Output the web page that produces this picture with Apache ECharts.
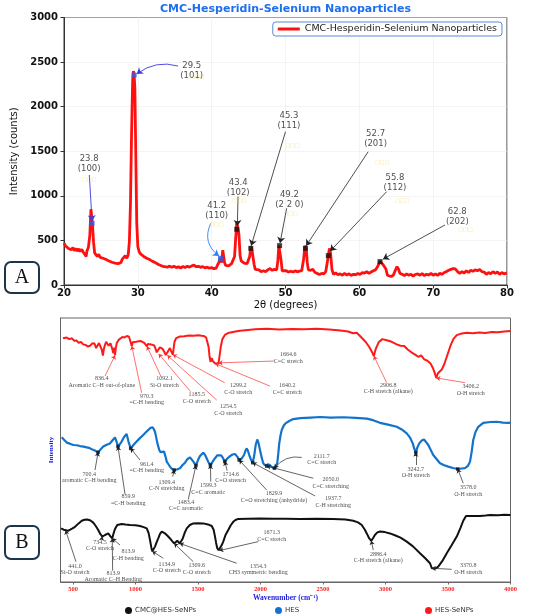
<!DOCTYPE html>
<html>
<head>
<meta charset="utf-8">
<script src="https://cdn.jsdelivr.net/npm/echarts@6/dist/echarts.min.js"></script>
<style>
html, body { margin: 0; padding: 0; background: #fff; }
#chart { width: 550px; height: 615px; }
</style>
</head>
<body>
<div id="chart"></div>
<script>
// ---- XRD scan (2theta, counts) ----
var xrdScan = [
  [20.0,470],[20.2,440],[20.4,455],[20.6,410],[20.8,430],[21.0,395],[21.2,420],[21.4,385],[21.6,410],[21.8,380],
  [22.0,405],[22.2,375],[22.4,400],[22.6,370],[22.8,390],[23.0,320],[23.1,380],[23.3,420],[23.5,560],[23.65,850],
  [23.75,760],[23.85,690],[24.0,480],[24.15,360],[24.3,340],[24.5,320],[24.7,345],[24.9,310],[25.1,330],[25.3,300],
  [25.5,315],[25.7,285],[25.9,300],[26.1,270],[26.3,285],[26.5,255],[26.7,270],[26.9,245],[27.1,265],[27.3,240],
  [27.5,255],[27.7,250],[27.9,290],[28.1,270],[28.3,330],[28.5,300],[28.7,340],[28.85,480],[29.0,900],[29.15,1700],
  [29.3,2300],[29.4,2400],[29.5,2360],[29.6,2200],[29.75,1300],[29.85,700],[30.0,430],[30.2,370],[30.4,345],[30.6,360],
  [30.8,320],[31.0,330],[31.2,300],[31.4,315],[31.6,285],[31.8,295],[32.0,265],[32.2,275],[32.4,250],[32.6,255],
  [32.8,230],[33.0,240],[33.2,215],[33.4,225],[33.6,205],[33.8,215],[34.0,200],[34.3,212],[34.6,198],[34.9,210],
  [35.2,195],[35.5,205],[35.8,190],[36.1,208],[36.4,196],[36.7,210],[37.0,200],[37.3,215],[37.6,222],[37.9,205],
  [38.2,210],[38.5,198],[38.8,205],[39.1,192],[39.4,200],[39.7,188],[40.0,195],[40.3,182],[40.6,190],[40.85,200],
  [41.0,260],[41.2,300],[41.35,250],[41.5,390],[41.6,370],[41.75,250],[41.9,220],[42.1,230],[42.3,215],[42.5,225],
  [42.7,240],[42.9,260],[43.1,320],[43.25,520],[43.4,700],[43.55,640],[43.7,560],[43.85,330],[44.0,270],[44.2,250],
  [44.4,245],[44.6,255],[44.8,240],[45.0,250],[45.15,320],[45.3,430],[45.45,400],[45.6,380],[45.75,230],[45.9,175],
  [46.1,165],[46.4,170],[46.7,150],[47.0,160],[47.3,150],[47.6,170],[47.9,185],[48.2,165],[48.5,175],[48.8,170],
  [48.95,260],[49.1,440],[49.2,445],[49.3,450],[49.4,280],[49.55,160],[49.8,150],[50.1,160],[50.4,145],[50.7,155],
  [51.0,145],[51.3,158],[51.6,148],[51.9,155],[52.2,160],[52.45,290],[52.65,440],[52.8,410],[52.95,250],[53.1,170],
  [53.4,165],[53.7,175],[54.0,140],[54.3,130],[54.6,118],[54.9,130],[55.2,125],[55.45,150],[55.65,250],[55.8,330],
  [55.95,410],[56.1,360],[56.3,170],[56.5,120],[56.8,135],[57.1,115],[57.4,125],[57.7,110],[58.0,130],[58.3,112],
  [58.6,125],[58.9,108],[59.2,120],[59.5,115],[59.8,130],[60.1,118],[60.4,138],[60.7,132],[61.0,150],[61.3,130],
  [61.6,145],[61.9,160],[62.2,170],[62.5,210],[62.8,265],[63.0,275],[63.2,230],[63.4,250],[63.6,180],[63.8,110],
  [64.0,120],[64.3,95],[64.6,110],[64.9,170],[65.1,205],[65.3,180],[65.5,130],[65.8,120],[66.1,105],[66.4,125],
  [66.7,110],[67.0,120],[67.3,100],[67.6,118],[67.9,125],[68.2,110],[68.5,128],[68.8,105],[69.1,120],[69.4,112],
  [69.7,130],[70.0,110],[70.3,125],[70.6,108],[70.9,130],[71.2,120],[71.5,140],[71.8,150],[72.1,165],[72.4,175],
  [72.7,185],[73.0,180],[73.3,150],[73.6,130],[73.9,150],[74.2,135],[74.5,160],[74.8,140],[75.1,165],[75.4,155],
  [75.7,170],[76.0,160],[76.3,175],[76.6,150],[76.9,145],[77.2,120],[77.5,140],[77.8,125],[78.1,150],[78.4,130],
  [78.7,145],[79.0,120],[79.3,140],[79.6,125],[80.0,135]
];
var xrdPeakAngle  = [23.8, 29.5, 41.2, 43.4, 45.3, 49.2, 52.7, 55.8, 62.8];
var xrdPeakCounts = [691, 2355, 299, 625, 411, 441, 411, 329, 262];
var xrdPeakHkl    = ['(100)', '(101)', '(110)', '(102)', '(111)', '(2 2 0)', '(201)', '(112)', '(202)'];
var xrdPeakBlue   = [true, true, true, false, false, false, false, false, false];

// ---- FTIR spectra (wavenumber, relative intensity) ----
var hesSeSpectrum = [
  [420,92.3],[449,92.6],[470,92.0],[492,92.3],[510,91.4],[528,91.5],[545,90.6],[564,90.9],[582,90.0],[600,89.8],
  [618,89.2],[636,89.5],[655,90.4],[672,90.3],[685,88.6],[696,89.2],[708,90.5],[720,90.3],[730,88.0],[739,85.8],
  [748,88.5],[756,89.8],[765,91.0],[775,90.9],[785,89.5],[792,89.2],[800,90.4],[809,90.3],[816,88.0],[823,86.6],
  [830,88.8],[836.4,85.9],[842,88.5],[850,90.5],[865,91.7],[876,92.0],[895,92.8],[912,92.6],[930,93.2],[948,92.9],
  [958,92.2],[970.3,89.4],[978,90.8],[990,91.5],[1005,91.0],[1020,91.6],[1040,91.3],[1056,91.0],[1070,90.6],[1080,90.1],
  [1092.1,89.3],[1100,90.2],[1111,90.8],[1125,90.0],[1140,90.2],[1150,89.6],[1159,88.5],[1170,87.0],[1185.5,86.4],[1195,88.9],
  [1205,89.2],[1215,88.4],[1230,87.2],[1242,86.0],[1254.5,85.9],[1265,87.8],[1275,88.6],[1288,87.2],[1299.2,86.1],[1305,88.5],
  [1312,91.0],[1325,92.4],[1356,93.0],[1390,93.1],[1428,93.4],[1465,93.3],[1500,93.5],[1530,93.3],[1548,93.2],[1565,92.6],
  [1577,92.0],[1585,89.0],[1592,85.5],[1600,83.4],[1610,84.8],[1620,83.6],[1630,82.9],[1640.2,82.7],[1652,83.2],[1664.6,83.0],
  [1672,85.5],[1682,89.0],[1695,92.0],[1715,93.6],[1740,94.3],[1790,94.8],[1836,95.2],[1900,95.5],[1956,95.7],[2052,95.9],
  [2150,95.6],[2250,95.8],[2350,95.7],[2450,95.9],[2550,95.6],[2640,95.3],[2700,94.9],[2740,94.2],[2770,94.4],[2800,93.0],
  [2840,91.0],[2870,89.0],[2895,86.8],[2906.8,85.6],[2920,88.0],[2945,90.8],[2975,92.0],[3010,91.6],[3050,91.0],[3090,90.0],
  [3120,89.5],[3150,89.4],[3180,88.0],[3210,86.9],[3240,86.0],[3265,85.3],[3285,85.8],[3310,84.3],[3335,83.8],[3360,82.8],
  [3380,81.0],[3395,79.0],[3406.2,77.3],[3418,79.0],[3432,78.8],[3450,80.5],[3470,82.5],[3495,86.0],[3520,89.5],[3545,92.2],
  [3570,93.5],[3600,94.0],[3650,94.4],[3700,94.2],[3750,94.5],[3800,94.3],[3850,94.7],[3900,94.6],[3950,94.9],[4000,95.1]
];
var hesSpectrum = [
  [410,54.8],[430,53.8],[450,52.8],[475,52.4],[503,51.9],[530,51.8],[556,51.5],[585,51.3],[610,51.0],[630,50.8],
  [650,50.3],[675,49.8],[700.4,49.1],[720,50.2],[742,51.3],[770,52.0],[796,52.5],[815,53.6],[836,54.8],[848,53.2],
  [859.9,51.3],[875,52.2],[889,53.2],[910,55.0],[929,56.1],[945,53.0],[961.4,50.6],[985,52.0],[1009,53.2],[1035,54.5],
  [1062,55.7],[1085,56.8],[1102,57.6],[1120,58.4],[1137,58.6],[1150,57.6],[1159,56.3],[1175,52.6],[1190,50.0],[1200,49.2],
  [1212,48.7],[1228,49.4],[1240,47.5],[1250,45.6],[1265,44.5],[1276,43.7],[1292,42.8],[1309.4,42.4],[1330,42.6],[1356,43.1],
  [1375,44.2],[1396,45.2],[1415,46.5],[1436,47.2],[1450,46.5],[1463,45.6],[1483.4,44.1],[1500,46.2],[1516,47.7],[1542,49.0],
  [1556,48.2],[1569,46.9],[1585,45.2],[1599.3,44.3],[1620,45.8],[1636,46.9],[1655,48.0],[1671,48.5],[1685,48.0],[1697,47.2],
  [1714.6,45.6],[1735,46.8],[1756,47.7],[1776,48.3],[1796,48.5],[1814,47.5],[1829.9,46.2],[1850,46.8],[1868,48.1],[1880,49.8],
  [1890,50.6],[1900,49.6],[1910,48.1],[1922,46.5],[1937.7,45.2],[1950,48.0],[1962,52.0],[1974,54.0],[1985,52.5],[1996,50.0],
  [2010,47.0],[2022,45.0],[2035,44.2],[2050,43.9],[2064,44.6],[2076,44.3],[2090,43.6],[2098,43.9],[2111.7,43.1],[2125,43.6],
  [2134,45.0],[2142,48.5],[2150,52.5],[2160,55.5],[2170,57.6],[2185,59.2],[2200,60.1],[2230,61.0],[2262,61.7],[2320,62.1],
  [2400,62.3],[2480,62.5],[2560,62.3],[2662,62.4],[2760,62.2],[2850,61.9],[2900,61.3],[2956,60.3],[3020,59.6],[3090,58.8],
  [3130,57.8],[3170,56.3],[3195,54.8],[3218,52.5],[3230,50.5],[3242.7,49.0],[3255,51.0],[3270,52.5],[3290,53.6],[3308,54.0],
  [3325,53.0],[3342,51.9],[3362,50.0],[3382,48.1],[3410,46.5],[3436,45.0],[3470,44.2],[3502,43.7],[3540,43.2],[3578,42.8],
  [3610,43.0],[3636,43.1],[3660,44.0],[3676,45.6],[3690,49.5],[3702,53.8],[3720,56.8],[3742,58.8],[3782,60.3],[3840,60.6],
  [3890,60.7],[3940,60.4],[3982,60.3],[4000,60.4]
];
var cmcSpectrum = [
  [404,20.3],[425,19.8],[441,19.5],[460,19.4],[476,19.7],[496,20.3],[516,20.9],[545,22.2],[570,23.2],[592,23.6],
  [614,23.7],[640,23.3],[662,22.5],[682,21.2],[702,19.7],[718,18.2],[734.5,17.2],[745,17.5],[756,17.8],[770,18.5],
  [782,18.4],[798,17.4],[813.9,16.5],[822,18.0],[835,20.0],[854,21.6],[870,22.0],[890,22.0],[920,21.8],[956,21.6],
  [1000,21.5],[1036,21.2],[1065,20.8],[1090,20.3],[1105,18.5],[1116,15.9],[1127,13.0],[1134.9,11.6],[1145,12.3],[1156,13.4],
  [1170,15.2],[1182,16.5],[1196,18.2],[1210,19.1],[1223,19.0],[1236,18.4],[1256,17.5],[1276,16.5],[1295,15.4],[1309.6,14.6],
  [1322,15.2],[1334,15.6],[1345,15.0],[1354.3,14.6],[1366,15.5],[1378,16.5],[1395,18.8],[1410,20.3],[1435,21.6],[1462,22.2],
  [1500,22.3],[1542,22.2],[1580,21.8],[1610,21.2],[1625,19.8],[1636,17.2],[1645,14.8],[1654,12.8],[1665,12.0],[1671.3,11.9],
  [1680,12.5],[1690,14.0],[1702,15.3],[1720,17.8],[1742,19.7],[1762,21.5],[1782,22.8],[1800,23.5],[1822,23.9],[1900,24.0],
  [1996,24.1],[2100,24.0],[2200,24.0],[2316,23.9],[2450,24.0],[2582,23.9],[2680,23.7],[2742,23.2],[2780,22.6],[2810,21.6],
  [2835,19.8],[2850,18.4],[2870,16.5],[2886.4,15.6],[2900,16.6],[2915,17.8],[2935,18.8],[2956,19.1],[2995,18.9],[3036,18.4],
  [3080,17.6],[3120,16.8],[3170,15.3],[3220,13.5],[3276,10.9],[3320,8.9],[3356,7.1],[3370.8,5.2],[3382,4.9],[3400,5.1],
  [3422,5.8],[3455,8.0],[3490,10.9],[3530,14.0],[3570,17.2],[3600,20.5],[3622,23.2],[3644,25.0],[3700,25.0],[3756,25.0],
  [3800,25.2],[3836,25.4],[3900,25.3],[3950,25.5],[4000,25.4]
];
var ftirTicks = [500, 1000, 1500, 2000, 2500, 3000, 3500, 4000];

var hesSePeakWave = [836.4, 970.3, 1092.1, 1185.5, 1254.5, 1299.2, 1664.6, 1640.2, 2906.8, 3406.2];
var hesSePeakName = ['Aromatic C\u2013H out-of-plane', '=C-H bending', 'Si-O stretch', 'C-O stretch', 'C-O stretch',
  'C-O stretch', 'C=C stretch', 'C=C stretch', 'C-H stretch (alkane)', 'O-H stretch'];
var hesPeakWave = [700.4, 859.9, 961.4, 1309.4, 1483.4, 1599.3, 1714.6, 1829.9, 1937.7, 2050.0, 2111.7, 3242.7, 3578.0];
var hesPeakName = ['aromatic C\u2013H bending', '=C-H bending', '=C-H bending', 'C-N stretching', 'C=C aromatic',
  'C=C aromatic', 'C=O strench', 'C=O stretching (anhydride)', 'C-H stretching', 'C=C stretching', 'C=C stretch',
  'O-H stretch', 'O-H stretch'];
var cmcPeakWave = [441.0, 734.5, 813.9, 813.9, 1134.9, 1309.6, 1354.3, 1671.3, 2886.4, 3370.8];
var cmcPeakName = ['Si-O stretch', 'C-O stretch', 'C-H bending', 'Aromatic C\u2013H Bending', 'C-O stretch',
  'C-O stretch', 'CH3 symmetric bending', 'C=C stretch', 'C-H stretch (alkane)', 'O-H stretch'];

// ---- annotation layout (label centre and arrow start, in axis units) ----
var xrdNoteAt   = [[23.4,1360],[37.3,2406],[40.68,834],[43.6,1088],[50.47,1847],[50.52,957],[62.2,1637],[64.83,1144],[73.27,770]];
var xrdNoteFrom = [[23.43,1234],[35.45,2456],[39.87,692],[43.57,991],[50.0,1719],[50.16,860],[61.2,1495],[63.7,1047],[71.6,673]];
var xrdNoteTo   = [[23.8,715],[29.85,2366],[40.99,325],[43.48,662],[45.35,440],[49.26,470],[52.8,440],[56.05,380],[63.2,290]];
var xrdNoteCurve = [0, -0.25, -0.4, 0, 0, 0, 0, 0, 0];
var xrdGlyphAt  = [[23.43,1185],[38.06,2336],[40.68,673],[43.75,946],[50.97,1562],[50.7,804],[63.1,1375],[65.8,946],[74.4,624]];

var hesSeNoteAt   = [[730,75.8],[1090,69.2],[1231,75.8],[1490,69.8],[1742,65.2],[1822,73.1],[2222,84.8],[2214,73.1],[3022,73.3],[3682,72.8]];
var hesSeNoteFrom = [[756,78.0],[1049,71.7],[1202,78.0],[1441,72.1],[1650,68.9],[1713,75.5],[2107,83.7],[2076,74.2],[3009,75.5],[3636,75.5]];
var hesNoteAt   = [[630,39.7],[942,31.1],[1090,43.4],[1250,36.6],[1404,29.1],[1582,35.3],[1761,39.6],[2108,32.3],[2582,30.4],[2562,37.6],[2490,46.5],[3242,41.5],[3662,34.5]];
var hesNoteFrom = [[676,42.4],[916,33.3],[1036,46.2],[1298,39.9],[1422,31.3],[1602,38.0],[1733,42.2],[2050,34.8],[2436,32.6],[2422,39.3],[2330,47.2],[3242,44.3],[3622,37.4]];
var hesNoteCurve = [0,0,0,0,0,0,0,0,0,0,-0.3,0,0];
var cmcNoteAt   = [[516,4.7],[716,13.9],[942,10.2],[822,2.1],[1250,5.5],[1490,5.0],[1982,4.7],[2090,17.4],[2942,9.3],[3662,5.0]];
var cmcNoteFrom = [[524,7.7],[730,16.2],[876,14.0],[817,4.3],[1222,9.0],[1462,7.7],[1810,7.1],[1982,15.3],[2902,12.1],[3530,4.8]];

function valueAt(spec, w) {
  for (var i = 1; i < spec.length; i++) {
    if (spec[i][0] >= w) {
      var a = spec[i - 1], b = spec[i];
      return a[1] + (b[1] - a[1]) * (w - a[0]) / (b[0] - a[0]);
    }
  }
  return spec[spec.length - 1][1];
}
function plain(v) { return String(v); }

var serif = 'Liberation Serif';
var sans = 'DejaVu Sans';

function textSeries(items, xi, yi, font, size, lh, color) {
  return {
    type: 'scatter', xAxisIndex: xi, yAxisIndex: yi, silent: true, z: 6,
    symbolSize: 0, itemStyle: { color: 'transparent' },
    label: { show: true, position: 'inside', formatter: '{b}', fontFamily: font, fontSize: size,
      lineHeight: lh, color: color, align: 'center', verticalAlign: 'middle' },
    data: items
  };
}
function arrowSeries(items, xi, yi, color, width, size) {
  return {
    type: 'lines', coordinateSystem: 'cartesian2d', xAxisIndex: xi, yAxisIndex: yi, silent: true, z: 5,
    symbol: ['none', 'arrow'], symbolSize: size,
    lineStyle: { color: color, width: width, opacity: 1 },
    data: items
  };
}
function ftirNotes(spec, waves, names, at, from, curves) {
  var labels = [], arrows = [];
  for (var i = 0; i < waves.length; i++) {
    labels.push({ value: at[i], name: waves[i].toFixed(1) + '\n' + names[i] });
    arrows.push({ coords: [from[i], [waves[i], valueAt(spec, waves[i])]],
      lineStyle: { curveness: curves ? curves[i] : 0 } });
  }
  return { labels: labels, arrows: arrows };
}

var xrdLabels = [], xrdGlyphs = [], xrdArrowsBlue = [], xrdArrowsLight = [], xrdArrowsBlack = [];
var xrdMarkBlue = [], xrdMarkBlack = [];
for (var i = 0; i < xrdPeakAngle.length; i++) {
  xrdLabels.push({ value: xrdNoteAt[i], name: xrdPeakAngle[i].toFixed(1) + '\n' + xrdPeakHkl[i] });
  xrdGlyphs.push({ value: xrdGlyphAt[i], name: '\u25a1\u25a1\u25a1' });
  var arr = { coords: [xrdNoteFrom[i], xrdNoteTo[i]], lineStyle: { curveness: xrdNoteCurve[i] } };
  if (i === 2) xrdArrowsLight.push(arr);
  else if (xrdPeakBlue[i]) xrdArrowsBlue.push(arr);
  else xrdArrowsBlack.push(arr);
  (xrdPeakBlue[i] ? xrdMarkBlue : xrdMarkBlack).push([xrdPeakAngle[i], xrdPeakCounts[i]]);
}

var redNotes = ftirNotes(hesSeSpectrum, hesSePeakWave, hesSePeakName, hesSeNoteAt, hesSeNoteFrom);
var blueNotes = ftirNotes(hesSpectrum, hesPeakWave, hesPeakName, hesNoteAt, hesNoteFrom, hesNoteCurve);
var blackNotes = ftirNotes(cmcSpectrum, cmcPeakWave, cmcPeakName, cmcNoteAt, cmcNoteFrom);
var hesMarks = hesPeakWave.map(function (w) { return [w, valueAt(hesSpectrum, w)]; });

var chart = echarts.init(document.getElementById('chart'));

var option = {
  animation: false,
  backgroundColor: '#fff',
  graphic: [
    { type: 'text', x: 285.5, y: 9, style: { text: 'CMC-Hesperidin-Selenium Nanoparticles', textAlign: 'center',
      textVerticalAlign: 'middle', font: 'bold 11px DejaVu Sans', fill: '#1e6ff0' } },
    { type: 'rect', shape: { x: 5, y: 262, width: 34, height: 31, r: 6 }, style: { fill: '#fff', stroke: '#1e3448', lineWidth: 2 } },
    { type: 'text', x: 22, y: 278, style: { text: 'A', textAlign: 'center', textVerticalAlign: 'middle', font: '20px Liberation Serif', fill: '#111' } },
    { type: 'rect', shape: { x: 5, y: 526, width: 34, height: 33, r: 6 }, style: { fill: '#fff', stroke: '#1e3448', lineWidth: 2 } },
    { type: 'text', x: 22, y: 543, style: { text: 'B', textAlign: 'center', textVerticalAlign: 'middle', font: '20px Liberation Serif', fill: '#111' } }
  ],
  legend: [
    { data: ['CMC-Hesperidin-Selenium Nanoparticles'], right: 48, top: 22, icon: 'rect', itemWidth: 22, itemHeight: 3,
      borderColor: '#5a8ad6', borderWidth: 1, borderRadius: 3, padding: [2, 5], backgroundColor: '#fff',
      textStyle: { fontFamily: sans, fontSize: 9.5, color: '#222' } },
    { data: ['CMC@HES-SeNPs'], left: 120, top: 602, icon: 'circle', itemWidth: 7, itemHeight: 7,
      textStyle: { fontFamily: sans, fontSize: 7, color: '#333', padding: [0, 0, 0, -2] } },
    { data: ['HES'], left: 270, top: 602, icon: 'circle', itemWidth: 7, itemHeight: 7,
      textStyle: { fontFamily: sans, fontSize: 7, color: '#333', padding: [0, 0, 0, -2] } },
    { data: ['HES-SeNPs'], left: 420, top: 602, icon: 'circle', itemWidth: 7, itemHeight: 7,
      textStyle: { fontFamily: sans, fontSize: 7, color: '#333', padding: [0, 0, 0, -2] } }
  ],
  grid: [
    { left: 64, top: 17.5, width: 443, height: 267.5, show: true, borderColor: '#333', borderWidth: 1, backgroundColor: '#fff' },
    { left: 60.5, top: 318, width: 450, height: 264, show: true, borderColor: '#666', borderWidth: 1, backgroundColor: '#fff' }
  ],
  xAxis: [
    { type: 'value', gridIndex: 0, min: 20, max: 80, interval: 10,
      name: '2\u03b8 (degrees)', nameLocation: 'middle', nameGap: 15,
      nameTextStyle: { fontFamily: sans, fontSize: 10, color: '#111' },
      axisLine: { lineStyle: { color: '#333' } }, axisTick: { length: 3.5, lineStyle: { color: '#333' } },
      axisLabel: { formatter: plain, fontFamily: sans, fontWeight: 'bold', fontSize: 10, color: '#111', margin: 3 },
      splitLine: { show: true, lineStyle: { color: '#ececec', width: 0.6 } } },
    { type: 'value', gridIndex: 1, min: 400, max: 4000,
      name: 'Wavenumber (cm\u207b\u00b9)', nameLocation: 'middle', nameGap: 12,
      nameTextStyle: { fontFamily: serif, fontWeight: 'bold', fontSize: 7.5, color: '#2222dd' },
      axisLine: { lineStyle: { color: '#666' } },
      axisTick: { customValues: ftirTicks, length: 2.5, lineStyle: { color: '#666' } },
      axisLabel: { customValues: ftirTicks, formatter: plain, fontFamily: serif, fontWeight: 'bold', fontSize: 6.5, color: '#ff2020', margin: 4 },
      splitLine: { show: false } }
  ],
  yAxis: [
    { type: 'value', gridIndex: 0, min: 0, max: 3000, interval: 500,
      name: 'Intensity (counts)', nameLocation: 'middle', nameGap: 44, nameRotate: 90,
      nameTextStyle: { fontFamily: sans, fontSize: 10, color: '#111' },
      axisLine: { show: true, lineStyle: { color: '#333' } }, axisTick: { show: true, length: 3.5, lineStyle: { color: '#333' } },
      axisLabel: { formatter: plain, fontFamily: sans, fontWeight: 'bold', fontSize: 10, color: '#111', margin: 6 },
      splitLine: { show: true, lineStyle: { color: '#ececec', width: 0.6 } } },
    { type: 'value', gridIndex: 1, min: 0, max: 100,
      name: 'Intensity', nameLocation: 'middle', nameGap: 6, nameRotate: 90,
      nameTextStyle: { fontFamily: serif, fontWeight: 'bold', fontSize: 7, color: '#2222dd' },
      axisLine: { show: true, lineStyle: { color: '#666' } }, axisTick: { show: false },
      axisLabel: { show: false }, splitLine: { show: false } }
  ],
  series: [
    { name: 'CMC-Hesperidin-Selenium Nanoparticles', type: 'line', xAxisIndex: 0, yAxisIndex: 0,
      data: xrdScan, showSymbol: false, symbol: 'none', color: '#ff1010',
      lineStyle: { color: '#ff1010', width: 2.8 }, z: 3 },
    { type: 'scatter', xAxisIndex: 0, yAxisIndex: 0, data: xrdMarkBlue, symbol: 'rect', symbolSize: 5,
      itemStyle: { color: '#2a5cf0' }, z: 7, silent: true },
    { type: 'scatter', xAxisIndex: 0, yAxisIndex: 0, data: xrdMarkBlack, symbol: 'rect', symbolSize: 5,
      itemStyle: { color: '#111' }, z: 7, silent: true },
    arrowSeries(xrdArrowsBlue, 0, 0, '#3a3ae0', 0.9, 6),
    arrowSeries(xrdArrowsLight, 0, 0, '#2d7ff9', 0.9, 6),
    arrowSeries(xrdArrowsBlack, 0, 0, '#222', 0.8, 6),
    textSeries(xrdLabels, 0, 0, sans, 8.5, 10, '#222'),
    textSeries(xrdGlyphs, 0, 0, sans, 5, 6, '#f2dc6a'),

    { name: 'HES-SeNPs', type: 'line', xAxisIndex: 1, yAxisIndex: 1, data: hesSeSpectrum, symbol: 'none',
      color: '#ff1a1a', lineStyle: { color: '#ff1a1a', width: 2 }, z: 3 },
    { name: 'HES', type: 'line', xAxisIndex: 1, yAxisIndex: 1, data: hesSpectrum, symbol: 'none',
      color: '#1273cc', lineStyle: { color: '#1273cc', width: 2.2 }, z: 3 },
    { name: 'CMC@HES-SeNPs', type: 'line', xAxisIndex: 1, yAxisIndex: 1, data: cmcSpectrum, symbol: 'none',
      color: '#111', lineStyle: { color: '#111', width: 2 }, z: 3 },
    { type: 'scatter', xAxisIndex: 1, yAxisIndex: 1, data: hesMarks, symbol: 'rect', symbolSize: 3.5,
      itemStyle: { color: '#111' }, z: 7, silent: true },
    arrowSeries(redNotes.arrows, 1, 1, '#ff3030', 0.7, 4),
    arrowSeries(blueNotes.arrows, 1, 1, '#222', 0.7, 4),
    arrowSeries(blackNotes.arrows, 1, 1, '#222', 0.7, 4),
    textSeries(redNotes.labels, 1, 1, serif, 6, 6.5, '#222'),
    textSeries(blueNotes.labels, 1, 1, serif, 6, 6.5, '#222'),
    textSeries(blackNotes.labels, 1, 1, serif, 6, 6.5, '#222')
  ]
};

chart.setOption(option);
</script>
</body>
</html>
